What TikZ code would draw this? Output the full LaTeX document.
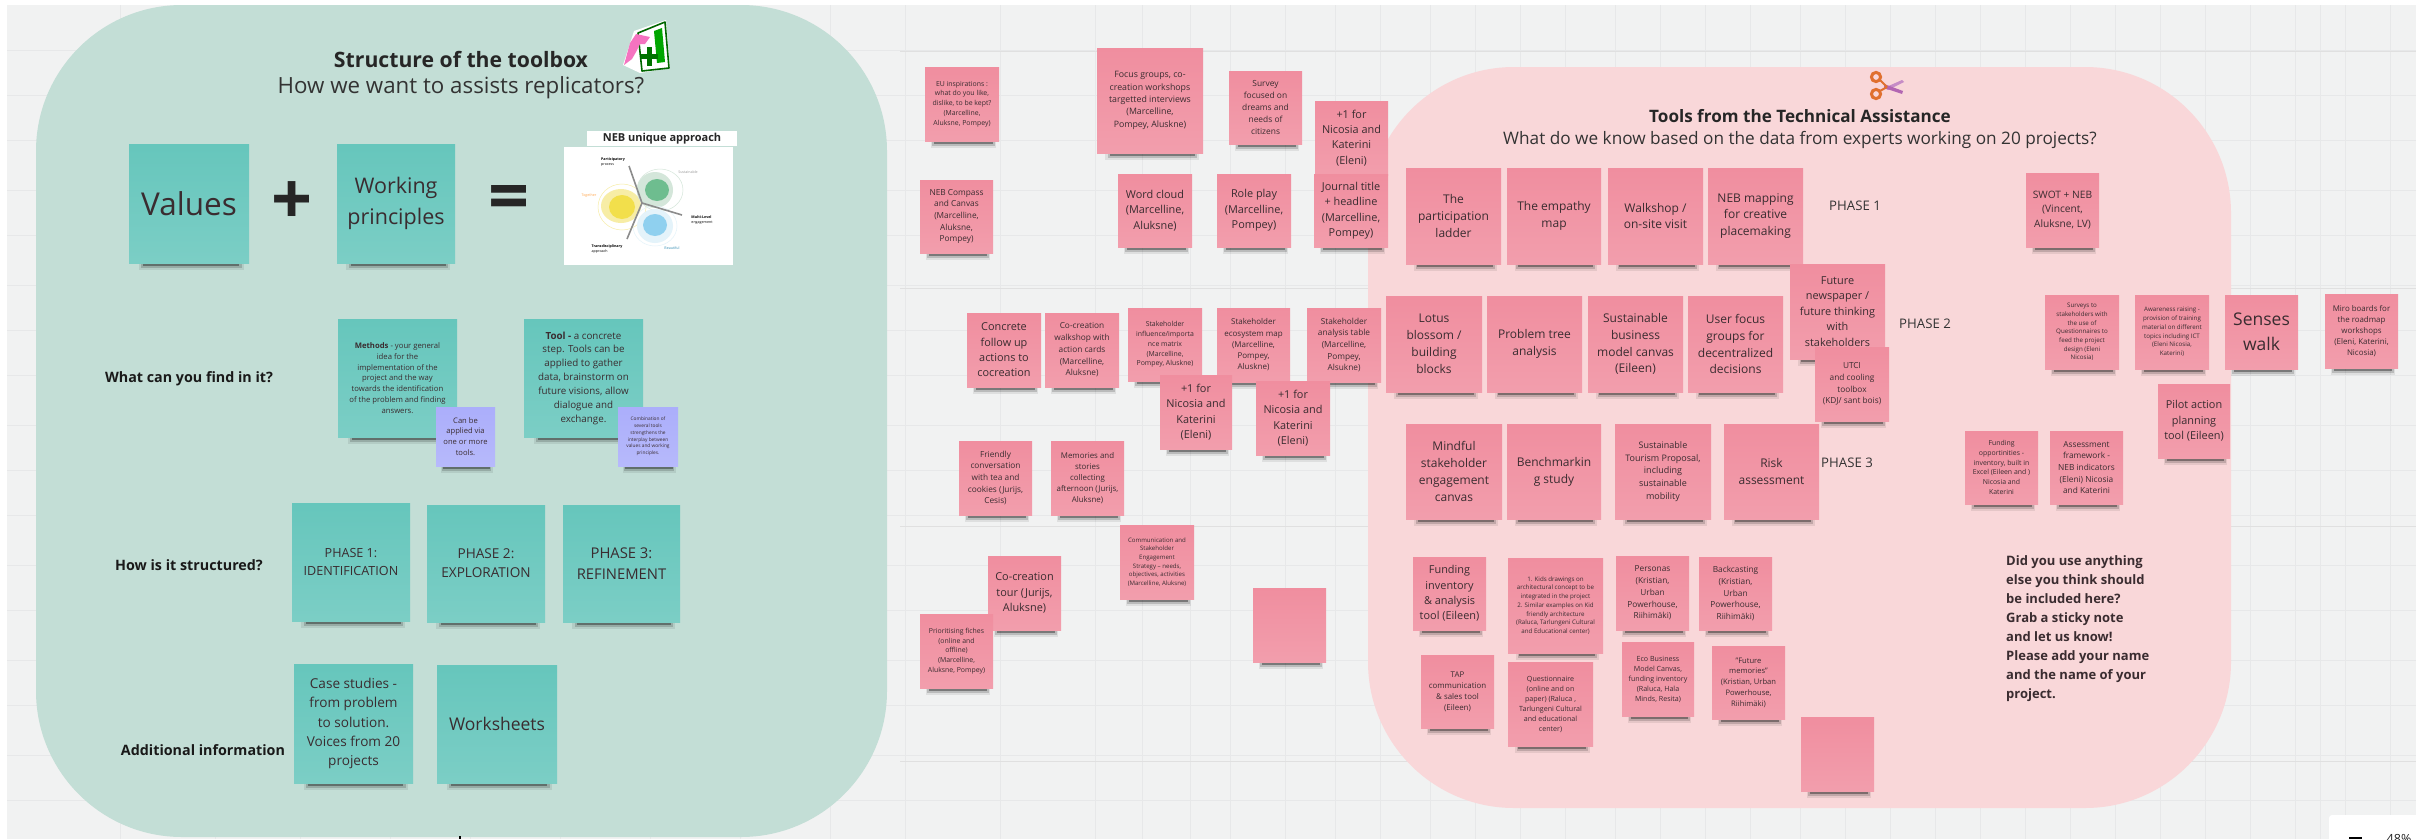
\documentclass[tikz,border=0pt]{standalone}
\usepackage{fontspec}
\setmainfont{Open Sans}
\usetikzlibrary{calc}
\definecolor{boardbg}{HTML}{F1F2F2}
\definecolor{gridln}{HTML}{E7E8E9}
\definecolor{greenpanel}{HTML}{C3DED6}
\definecolor{pinkpanel}{HTML}{F9D7D9}
\definecolor{tealnote}{HTML}{66C6BC}
\definecolor{pinknote}{HTML}{F08E9F}
\definecolor{violetnote}{HTML}{ABAEFB}
\definecolor{inktext}{HTML}{3A2C30}
\definecolor{nebyellow}{HTML}{F2DF4B}
\definecolor{nebyellowp}{HTML}{F7EDA6}
\definecolor{nebgreen}{HTML}{6EBD8F}
\definecolor{nebgreenp}{HTML}{D4E6DA}
\definecolor{nebblue}{HTML}{8FD0EF}
\definecolor{nebbluep}{HTML}{E4F3FA}
\definecolor{scissor}{HTML}{E0702F}
\tikzset{
  x=1pt,y=-1pt,
  notebase/.style={draw=none,inner sep=0pt,align=center,text=inktext},
  paneltitle/.style={font=\bfseries\fontsize{21.2}{25}\selectfont,text=black!85},
  panelsub/.style={font=\fontsize{22.3}{26}\selectfont,text=black!80},
  sidelabel/.style={font=\bfseries\fontsize{14.3}{17}\selectfont,text=black!90},
  phaselabel/.style={font=\fontsize{13.2}{16}\selectfont,text=black!80},
  tinydiag/.style={font=\fontsize{3.6}{4.4}\selectfont,align=left,inner sep=0pt},
}
% \pnote{name}{x0}{y0}{x1}{y1}{colour}{font size}{text}
\newcommand{\pnote}[8]{%
  \fill[black,opacity=.08] ({#2+.08*(#4-#2)},{#5}) rectangle ({#4-.04*(#4-#2)},{#5+7});
  \fill[black,opacity=.16] ({#2+.1*(#4-#2)},{#5}) rectangle ({#4-.06*(#4-#2)},{#5+4.5});
  \fill[black,opacity=.35] ({#2+.12*(#4-#2)},{#5}) rectangle ({#4-.08*(#4-#2)},{#5+2.5});
  \path[top color=#6,bottom color=#6!86!white] (#2,#3) rectangle (#4,#5);
  \pgfmathsetlengthmacro{\notelead}{#7*1.41}%
  \node[notebase,font=\fontsize{#7}{\notelead}\selectfont]
     (#1) at ({(#2+#4)/2},{(#3+#5)/2}) {#8};}
\begin{document}
\begin{tikzpicture}
\useasboundingbox (0,0) rectangle (2428,839);
\fill[white] (0,0) rectangle (2428,839);
\fill[boardbg] (7,5) rectangle (2416,839);
% board grid
\foreach \gx in {120,215,300,390,470,560,650,740,830,905,1000,1095,1142,1190,1230,1285,1335,1380,1430,1475,1520,1565,1615,1660,1705,1750,1800,1845,1890,1935,1980,2025,2070,2115,2160,2205,2250,2295,2320,2345,2390}
  \draw[gridln,line width=.8pt] (\gx,5) -- (\gx,839);
\foreach \gy in {50,95,140,190,235,285,330,375,425,470,515,565,610,660,705,755,800}
  \draw[gridln,line width=.8pt] (7,\gy) -- (2416,\gy);
\foreach \gy in {51,288,526,761} \draw[black!12,line width=.9pt] (900,\gy) -- (2416,\gy);
% panels
\fill[greenpanel,rounded corners=146pt] (36,5) rectangle (887,837);
\fill[pinkpanel,rounded corners=146pt] (1368,67) rectangle (2231,808);
% titles left
\node[paneltitle] (lefttitle) at (461,59) {Structure of the toolbox};
\node[panelsub] (leftsub) at (461,88) {How we want to assists replicators?};
% icon tablet
\begin{scope}
\fill[white] (634,31) -- (666,20) -- (670,68) -- (640,73) -- (623,65) -- cycle;
\draw[green!40!black,line width=1.6pt,line join=round] (638,33) -- (665,22) -- (669,68) -- (642,71) -- cycle;
\fill[green!65!black] (654,31) -- (662,28) -- (665,62) -- (657,63) -- cycle;
\fill[green!45!black] (647,47) rectangle (652,66);
\fill[green!45!black] (641,54) rectangle (658,59);
\fill[magenta!55!white] (624,65) -- (630,43) -- (636,34) -- (650,37) -- (645,44) -- (640,44) -- (636,52) -- (632,59) -- cycle;
\end{scope}
% first row
\pnote{vals}{129}{144}{249}{263}{tealnote}{31.5}{Values}
\pnote{workp}{337}{144}{455}{263}{tealnote}{21.5}{Working\\principles}
\node[font=\bfseries\fontsize{72}{72}\selectfont,text=black!85,inner sep=0pt] (plusmark) at (292,203) {+};
\node[font=\bfseries\fontsize{72}{72}\selectfont,text=black!85,inner sep=0pt] (eqmark) at (509,203) {=};
% NEB image
\fill[white] (564,147) rectangle (733,265);
\fill[white] (587,131) rectangle (737,146);
\node[font=\bfseries\fontsize{11}{13}\selectfont,text=black!85] (nebhead) at (662,138.5) {NEB unique approach};
\draw[nebyellowp,line width=.5pt,fill=white] (622,207) ellipse (24 and 23);
\fill[nebyellowp] (621,206) ellipse (20 and 17);
\fill[nebyellow] (622,207) ellipse (13 and 12);
\draw[nebgreenp,line width=.5pt] (660,190) ellipse (23 and 21);
\fill[nebgreenp] (655,190) ellipse (18 and 18);
\fill[nebgreen] (657,190) ellipse (12 and 11);
\draw[nebbluep,line width=.5pt] (655,226) ellipse (22 and 20);
\fill[nebbluep] (655,226) ellipse (18 and 17);
\fill[nebblue] (655,225) ellipse (12 and 11);
\draw[black!45,line width=1.6pt] (629,166) -- (642,203) -- (682,215);
\draw[black!45,line width=1.6pt] (642,203) -- (627,239);
\node[tinydiag] (dg1) at (613,162) {\bfseries Participatory\\process};
\node[tinydiag,text=black!40] (dg2) at (688,172) {Sustainable};
\node[tinydiag,text=orange!70] (dg3) at (589,196) {Together};
\node[tinydiag] (dg4) at (702,220) {\bfseries Multi-Level\\engagement};
\node[tinydiag] (dg5) at (607,249) {\bfseries Transdisciplinary\\approach};
\node[tinydiag,text=cyan!70!black] (dg6) at (672,248) {Beautiful};
% labels
\node[sidelabel] (l1) at (189,379) {What can you find in it?};
\node[sidelabel] (l2) at (189,565) {How is it structured?};
\node[sidelabel] (l3) at (203,750) {Additional information};
% methods
\pnote{meth}{338}{319}{457}{437}{tealnote}{7.7}{\textbf{Methods} - your general\\idea for the\\implementation of the\\project and the way\\towards the identification\\of the problem and finding\\answers.}
\pnote{tool}{524}{319}{643}{437}{tealnote}{9.8}{\textbf{Tool -} a concrete\\step. Tools can be\\applied to gather\\data, brainstorm on\\future visions, allow\\dialogue and\\exchange.}
\pnote{canbe}{436}{407}{495}{466}{violetnote}{7.6}{Can be\\applied via\\one or more\\tools.}
\pnote{combo}{618}{407}{678}{466}{violetnote}{4.8}{Combination of\\several tools\\strengthens the\\interplay between\\values and working\\principles.}
% phases
\pnote{ph1}{292}{503}{410}{621}{tealnote}{12.6}{PHASE 1:\\IDENTIFICATION}
\pnote{ph2}{427}{505}{545}{622}{tealnote}{13.6}{PHASE 2:\\EXPLORATION}
\pnote{ph3}{563}{505}{680}{622}{tealnote}{14.8}{PHASE 3:\\REFINEMENT}
\pnote{casest}{294}{664}{413}{783}{tealnote}{13.6}{Case studies -\\from problem\\to solution.\\Voices from 20\\projects}
\pnote{works}{437}{665}{557}{783}{tealnote}{17.5}{Worksheets}
% middle notes
\pnote{eu}{925}{67}{999}{141}{pinknote}{6.9}{EU inspirations :\\what do you like,\\dislike, to be kept?\\(Marcelline,\\Aluksne, Pompey)}
\pnote{focus}{1097}{48}{1203}{153}{pinknote}{8.8}{Focus groups, co-\\creation workshops\\targetted interviews\\(Marcelline,\\Pompey, Aluskne)}
\pnote{survey}{1229}{71}{1302}{144}{pinknote}{8.4}{Survey\\focused on\\dreams and\\needs of\\citizens}
\pnote{plusa}{1315}{101}{1388}{175}{pinknote}{10.9}{+1 for\\Nicosia and\\Katerini\\(Eleni)}
\pnote{compass}{920}{180}{993}{253}{pinknote}{8.3}{NEB Compass\\and Canvas\\(Marcelline,\\Aluksne,\\Pompey)}
\pnote{wordc}{1118}{174}{1192}{247}{pinknote}{10.9}{Word cloud\\(Marcelline,\\Aluksne)}
\pnote{rolep}{1217}{174}{1291}{247}{pinknote}{10.9}{Role play\\(Marcelline,\\Pompey)}
\pnote{journal}{1314}{174}{1388}{247}{pinknote}{10.9}{Journal title\\+ headline\\(Marcelline,\\Pompey)}
\pnote{concrete}{967}{313}{1041}{387}{pinknote}{10.9}{Concrete\\follow up\\actions to\\cocreation}
\pnote{cowalk}{1045}{313}{1119}{387}{pinknote}{8.3}{Co-creation\\walkshop with\\action cards\\(Marcelline,\\Aluksne)}
\pnote{influence}{1128}{308}{1202}{381}{pinknote}{6.9}{Stakeholder\\influence/importa\\nce matrix\\(Marcelline,\\Pompey, Aluskne)}
\pnote{ecosys}{1217}{308}{1290}{382}{pinknote}{8}{Stakeholder\\ecosystem map\\(Marcelline,\\Pompey,\\Aluskne)}
\pnote{analysis}{1307}{308}{1381}{382}{pinknote}{8.3}{Stakeholder\\analysis table\\(Marcelline,\\Pompey,\\Alsukne)}
\pnote{plusb}{1160}{375}{1232}{449}{pinknote}{10.9}{+1 for\\Nicosia and\\Katerini\\(Eleni)}
\pnote{plusc}{1256}{381}{1330}{455}{pinknote}{10.9}{+1 for\\Nicosia and\\Katerini\\(Eleni)}
\pnote{friendly}{959}{441}{1032}{515}{pinknote}{8.3}{Friendly\\conversation\\with tea and\\cookies (Jurijs,\\Cesis)}
\pnote{memories}{1051}{441}{1124}{515}{pinknote}{7.9}{Memories and\\stories\\collecting\\afternoon (Jurijs,\\Aluksne)}
\pnote{commun}{1120}{525}{1194}{599}{pinknote}{6.1}{Communication and\\Stakeholder\\Engagement\\Strategy – needs,\\objectives, activities\\(Marcelline, Aluksne)}
\pnote{cotour}{988}{556}{1061}{630}{pinknote}{10.9}{Co-creation\\tour (Jurijs,\\Aluksne)}
\pnote{priorit}{920}{614}{993}{688}{pinknote}{6.9}{Prioritising fiches\\(online and\\offline)\\(Marcelline,\\Aluksne, Pompey)}
\pnote{blanka}{1253}{588}{1326}{662}{pinknote}{8}{}
% titles right
\node[paneltitle,font=\bfseries\fontsize{17.1}{20}\selectfont] (righttitle) at (1800,116) {Tools from the Technical Assistance};
\node[panelsub,font=\fontsize{17.2}{20}\selectfont] (rightsub) at (1800,140) {What do we know based on the data from experts working on 20 projects?};
% scissors
\draw[scissor,line width=3pt] (1876,77) circle (4.6);
\draw[scissor,line width=3pt] (1876,94) circle (4.6);
\fill[violet!45!white] (1884,88) -- (1902,80) -- (1904,82) -- (1888,90) -- cycle;
\fill[violet!60!white] (1884,84) -- (1903,91) -- (1902,94) -- (1884,88) -- cycle;
\draw[scissor,line width=2pt] (1880,80) -- (1887,87) (1880,91) -- (1887,87);
% phase 1 row
\pnote{ladder}{1406}{168}{1501}{264}{pinknote}{12}{The\\participation\\ladder}
\pnote{empathy}{1507}{168}{1601}{264}{pinknote}{12}{The empathy\\map}
\pnote{walksh}{1608}{168}{1703}{264}{pinknote}{12}{Walkshop /\\on-site visit}
\pnote{nebmap}{1708}{168}{1803}{264}{pinknote}{12}{NEB mapping\\for creative\\placemaking}
\node[phaselabel] (p1lab) at (1855,206) {PHASE 1};
% phase 2 row
\pnote{lotus}{1386}{296}{1482}{392}{pinknote}{12}{Lotus\\blossom /\\building\\blocks}
\pnote{probl}{1487}{296}{1582}{392}{pinknote}{12}{Problem tree\\analysis}
\pnote{susbus}{1588}{296}{1683}{392}{pinknote}{12}{Sustainable\\business\\model canvas\\(Eileen)}
\pnote{userf}{1688}{296}{1783}{392}{pinknote}{12}{User focus\\groups for\\decentralized\\decisions}
\pnote{futnews}{1790}{264}{1885}{359}{pinknote}{10.9}{Future\\newspaper /\\future thinking\\with\\stakeholders}
\pnote{utci}{1815}{347}{1889}{421}{pinknote}{8.3}{UTCI\\and cooling\\toolbox\\(KDJ/ sant bois)}
\node[phaselabel] (p2lab) at (1925,324) {PHASE 2};
% phase 3 row
\pnote{mindful}{1406}{424}{1502}{519}{pinknote}{12}{Mindful\\stakeholder\\engagement\\canvas}
\pnote{benchm}{1507}{424}{1601}{519}{pinknote}{12}{Benchmarkin\\g study}
\pnote{sustour}{1615}{424}{1711}{519}{pinknote}{9}{Sustainable\\Tourism Proposal,\\including\\sustainable\\mobility}
\pnote{risk}{1724}{424}{1819}{519}{pinknote}{12}{Risk\\assessment}
\node[phaselabel] (p3lab) at (1847,463) {PHASE 3};
% lower notes
\pnote{fundinv}{1413}{557}{1486}{630}{pinknote}{10.9}{Funding\\inventory\\\& analysis\\tool (Eileen)}
\pnote{kids}{1508}{558}{1603}{653}{pinknote}{6.2}{1. Kids drawings on\\architectural concept to be\\integrated in the project\\2. Similar examples on Kid\\friendly architecture\\(Raluca, Tarlungeni Cultural\\and Educational center)}
\pnote{personas}{1616}{556}{1689}{630}{pinknote}{8.3}{Personas\\(Kristian,\\Urban\\Powerhouse,\\Riihimäki)}
\pnote{backc}{1699}{557}{1772}{630}{pinknote}{8.3}{Backcasting\\(Kristian,\\Urban\\Powerhouse,\\Riihimäki)}
\pnote{tap}{1421}{655}{1494}{728}{pinknote}{7.9}{TAP\\communication\\\& sales tool\\(Eileen)}
\pnote{questn}{1508}{662}{1593}{746}{pinknote}{7.1}{Questionnaire\\(online and on\\paper) (Raluca ,\\Tarlungeni Cultural\\and educational\\center)}
\pnote{ecob}{1622}{642}{1694}{716}{pinknote}{7.1}{Eco Business\\Model Canvas,\\funding inventory\\(Raluca, Hala\\Minds, Resita)}
\pnote{futmem}{1712}{646}{1785}{719}{pinknote}{7.6}{"Future\\memories"\\(Kristian, Urban\\Powerhouse,\\Riihimäki)}
\pnote{blankb}{1801}{717}{1874}{791}{pinknote}{8}{}
% right group
\pnote{swot}{2026}{173}{2099}{247}{pinknote}{10.2}{SWOT + NEB\\(Vincent,\\Aluksne, LV)}
\pnote{surveys}{2045}{295}{2119}{369}{pinknote}{6.2}{Surveys to\\stakeholders with\\the use of\\Questionnaires to\\feed the project\\design (Eleni\\Nicosia)}
\pnote{aware}{2135}{295}{2209}{369}{pinknote}{6.2}{Awareness raising -\\provision of training\\material on different\\topics including ICT\\(Eleni Nicosia,\\Katerini)}
\pnote{senses}{2225}{295}{2298}{369}{pinknote}{17.5}{Senses\\walk}
\pnote{miro}{2325}{294}{2398}{368}{pinknote}{7.9}{Miro boards for\\the roadmap\\workshops\\(Eleni, Katerini,\\Nicosia)}
\pnote{pilot}{2158}{384}{2230}{458}{pinknote}{10.9}{Pilot action\\planning\\tool (Eileen)}
\pnote{fundopp}{1965}{431}{2038}{504}{pinknote}{6.9}{Funding\\opportinities -\\inventory, built in\\Excel (Eileen and )\\Nicosia and\\Katerini}
\pnote{assess}{2050}{431}{2123}{504}{pinknote}{8.3}{Assessment\\framework -\\NEB indicators\\(Eleni) Nicosia\\and Katerini}
\node[font=\bfseries\fontsize{13}{19.1}\selectfont,text=inktext,align=left,anchor=north west,inner sep=0pt] (askme) at (2006,555) {Did you use anything\\else you think should\\be included here?\\Grab a sticky note\\and let us know!\\Please add your name\\and the name of your\\project.};
% zoom widget
\fill[white,rounded corners=3pt] (2329,815) rectangle (2428,850);
\fill[black] (2349,836.5) rectangle (2362,839);
\node[font=\fontsize{12.6}{14}\selectfont,text=black!85,anchor=north,inner sep=0pt] (zoompc) at (2399,834) {48\%};
\fill[black] (459,836) rectangle (460.5,839);
\end{tikzpicture}
\end{document}
